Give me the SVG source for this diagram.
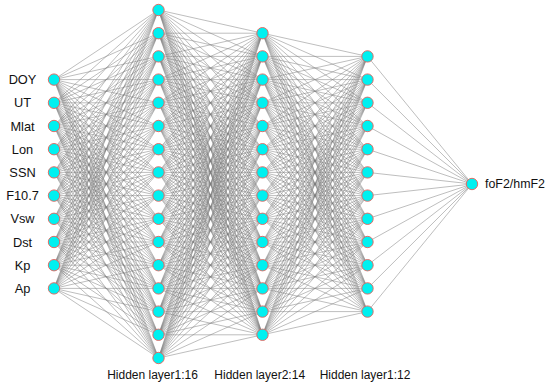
<svg xmlns="http://www.w3.org/2000/svg" width="550" height="390" viewBox="0 0 550 390">
<style>
.bg{fill:#fff}
.c path{fill:none;stroke:#7c7c7c;stroke-width:0.5}
.n circle{fill:#00f0f0;stroke:#e8605a;stroke-width:0.9}
text{font-family:"Liberation Sans",Arial,sans-serif;font-size:12px;fill:#111}
.lbl{text-anchor:middle}
.inl{font-size:12.8px}
</style>
<rect class="bg" width="550" height="390"/>
<g id="connectors" class="c">
<path d="M54 79.6 158.5 10M54 79.6 158.5 33.2M54 79.6 158.5 56.4M54 79.6 158.5 79.6M54 79.6 158.5 102.8M54 79.6 158.5 126M54 79.6 158.5 149.2M54 79.6 158.5 172.4M54 79.6 158.5 195.6M54 79.6 158.5 218.8M54 79.6 158.5 242M54 79.6 158.5 265.2M54 79.6 158.5 288.4M54 79.6 158.5 311.6M54 79.6 158.5 334.8M54 79.6 158.5 358"/>
<path d="M54 102.8 158.5 10M54 102.8 158.5 33.2M54 102.8 158.5 56.4M54 102.8 158.5 79.6M54 102.8 158.5 102.8M54 102.8 158.5 126M54 102.8 158.5 149.2M54 102.8 158.5 172.4M54 102.8 158.5 195.6M54 102.8 158.5 218.8M54 102.8 158.5 242M54 102.8 158.5 265.2M54 102.8 158.5 288.4M54 102.8 158.5 311.6M54 102.8 158.5 334.8M54 102.8 158.5 358"/>
<path d="M54 126 158.5 10M54 126 158.5 33.2M54 126 158.5 56.4M54 126 158.5 79.6M54 126 158.5 102.8M54 126 158.5 126M54 126 158.5 149.2M54 126 158.5 172.4M54 126 158.5 195.6M54 126 158.5 218.8M54 126 158.5 242M54 126 158.5 265.2M54 126 158.5 288.4M54 126 158.5 311.6M54 126 158.5 334.8M54 126 158.5 358"/>
<path d="M54 149.2 158.5 10M54 149.2 158.5 33.2M54 149.2 158.5 56.4M54 149.2 158.5 79.6M54 149.2 158.5 102.8M54 149.2 158.5 126M54 149.2 158.5 149.2M54 149.2 158.5 172.4M54 149.2 158.5 195.6M54 149.2 158.5 218.8M54 149.2 158.5 242M54 149.2 158.5 265.2M54 149.2 158.5 288.4M54 149.2 158.5 311.6M54 149.2 158.5 334.8M54 149.2 158.5 358"/>
<path d="M54 172.4 158.5 10M54 172.4 158.5 33.2M54 172.4 158.5 56.4M54 172.4 158.5 79.6M54 172.4 158.5 102.8M54 172.4 158.5 126M54 172.4 158.5 149.2M54 172.4 158.5 172.4M54 172.4 158.5 195.6M54 172.4 158.5 218.8M54 172.4 158.5 242M54 172.4 158.5 265.2M54 172.4 158.5 288.4M54 172.4 158.5 311.6M54 172.4 158.5 334.8M54 172.4 158.5 358"/>
<path d="M54 195.6 158.5 10M54 195.6 158.5 33.2M54 195.6 158.5 56.4M54 195.6 158.5 79.6M54 195.6 158.5 102.8M54 195.6 158.5 126M54 195.6 158.5 149.2M54 195.6 158.5 172.4M54 195.6 158.5 195.6M54 195.6 158.5 218.8M54 195.6 158.5 242M54 195.6 158.5 265.2M54 195.6 158.5 288.4M54 195.6 158.5 311.6M54 195.6 158.5 334.8M54 195.6 158.5 358"/>
<path d="M54 218.8 158.5 10M54 218.8 158.5 33.2M54 218.8 158.5 56.4M54 218.8 158.5 79.6M54 218.8 158.5 102.8M54 218.8 158.5 126M54 218.8 158.5 149.2M54 218.8 158.5 172.4M54 218.8 158.5 195.6M54 218.8 158.5 218.8M54 218.8 158.5 242M54 218.8 158.5 265.2M54 218.8 158.5 288.4M54 218.8 158.5 311.6M54 218.8 158.5 334.8M54 218.8 158.5 358"/>
<path d="M54 242 158.5 10M54 242 158.5 33.2M54 242 158.5 56.4M54 242 158.5 79.6M54 242 158.5 102.8M54 242 158.5 126M54 242 158.5 149.2M54 242 158.5 172.4M54 242 158.5 195.6M54 242 158.5 218.8M54 242 158.5 242M54 242 158.5 265.2M54 242 158.5 288.4M54 242 158.5 311.6M54 242 158.5 334.8M54 242 158.5 358"/>
<path d="M54 265.2 158.5 10M54 265.2 158.5 33.2M54 265.2 158.5 56.4M54 265.2 158.5 79.6M54 265.2 158.5 102.8M54 265.2 158.5 126M54 265.2 158.5 149.2M54 265.2 158.5 172.4M54 265.2 158.5 195.6M54 265.2 158.5 218.8M54 265.2 158.5 242M54 265.2 158.5 265.2M54 265.2 158.5 288.4M54 265.2 158.5 311.6M54 265.2 158.5 334.8M54 265.2 158.5 358"/>
<path d="M54 288.4 158.5 10M54 288.4 158.5 33.2M54 288.4 158.5 56.4M54 288.4 158.5 79.6M54 288.4 158.5 102.8M54 288.4 158.5 126M54 288.4 158.5 149.2M54 288.4 158.5 172.4M54 288.4 158.5 195.6M54 288.4 158.5 218.8M54 288.4 158.5 242M54 288.4 158.5 265.2M54 288.4 158.5 288.4M54 288.4 158.5 311.6M54 288.4 158.5 334.8M54 288.4 158.5 358"/>

<path d="M158.5 10 262.5 33.2M158.5 10 262.5 56.4M158.5 10 262.5 79.6M158.5 10 262.5 102.8M158.5 10 262.5 126M158.5 10 262.5 149.2M158.5 10 262.5 172.4M158.5 10 262.5 195.6M158.5 10 262.5 218.8M158.5 10 262.5 242M158.5 10 262.5 265.2M158.5 10 262.5 288.4M158.5 10 262.5 311.6M158.5 10 262.5 334.8"/>
<path d="M158.5 33.2 262.5 33.2M158.5 33.2 262.5 56.4M158.5 33.2 262.5 79.6M158.5 33.2 262.5 102.8M158.5 33.2 262.5 126M158.5 33.2 262.5 149.2M158.5 33.2 262.5 172.4M158.5 33.2 262.5 195.6M158.5 33.2 262.5 218.8M158.5 33.2 262.5 242M158.5 33.2 262.5 265.2M158.5 33.2 262.5 288.4M158.5 33.2 262.5 311.6M158.5 33.2 262.5 334.8"/>
<path d="M158.5 56.4 262.5 33.2M158.5 56.4 262.5 56.4M158.5 56.4 262.5 79.6M158.5 56.4 262.5 102.8M158.5 56.4 262.5 126M158.5 56.4 262.5 149.2M158.5 56.4 262.5 172.4M158.5 56.4 262.5 195.6M158.5 56.4 262.5 218.8M158.5 56.4 262.5 242M158.5 56.4 262.5 265.2M158.5 56.4 262.5 288.4M158.5 56.4 262.5 311.6M158.5 56.4 262.5 334.8"/>
<path d="M158.5 79.6 262.5 33.2M158.5 79.6 262.5 56.4M158.5 79.6 262.5 79.6M158.5 79.6 262.5 102.8M158.5 79.6 262.5 126M158.5 79.6 262.5 149.2M158.5 79.6 262.5 172.4M158.5 79.6 262.5 195.6M158.5 79.6 262.5 218.8M158.5 79.6 262.5 242M158.5 79.6 262.5 265.2M158.5 79.6 262.5 288.4M158.5 79.6 262.5 311.6M158.5 79.6 262.5 334.8"/>
<path d="M158.5 102.8 262.5 33.2M158.5 102.8 262.5 56.4M158.5 102.8 262.5 79.6M158.5 102.8 262.5 102.8M158.5 102.8 262.5 126M158.5 102.8 262.5 149.2M158.5 102.8 262.5 172.4M158.5 102.8 262.5 195.6M158.5 102.8 262.5 218.8M158.5 102.8 262.5 242M158.5 102.8 262.5 265.2M158.5 102.8 262.5 288.4M158.5 102.8 262.5 311.6M158.5 102.8 262.5 334.8"/>
<path d="M158.5 126 262.5 33.2M158.5 126 262.5 56.4M158.5 126 262.5 79.6M158.5 126 262.5 102.8M158.5 126 262.5 126M158.5 126 262.5 149.2M158.5 126 262.5 172.4M158.5 126 262.5 195.6M158.5 126 262.5 218.8M158.5 126 262.5 242M158.5 126 262.5 265.2M158.5 126 262.5 288.4M158.5 126 262.5 311.6M158.5 126 262.5 334.8"/>
<path d="M158.5 149.2 262.5 33.2M158.5 149.2 262.5 56.4M158.5 149.2 262.5 79.6M158.5 149.2 262.5 102.8M158.5 149.2 262.5 126M158.5 149.2 262.5 149.2M158.5 149.2 262.5 172.4M158.5 149.2 262.5 195.6M158.5 149.2 262.5 218.8M158.5 149.2 262.5 242M158.5 149.2 262.5 265.2M158.5 149.2 262.5 288.4M158.5 149.2 262.5 311.6M158.5 149.2 262.5 334.8"/>
<path d="M158.5 172.4 262.5 33.2M158.5 172.4 262.5 56.4M158.5 172.4 262.5 79.6M158.5 172.4 262.5 102.8M158.5 172.4 262.5 126M158.5 172.4 262.5 149.2M158.5 172.4 262.5 172.4M158.5 172.4 262.5 195.6M158.5 172.4 262.5 218.8M158.5 172.4 262.5 242M158.5 172.4 262.5 265.2M158.5 172.4 262.5 288.4M158.5 172.4 262.5 311.6M158.5 172.4 262.5 334.8"/>
<path d="M158.5 195.6 262.5 33.2M158.5 195.6 262.5 56.4M158.5 195.6 262.5 79.6M158.5 195.6 262.5 102.8M158.5 195.6 262.5 126M158.5 195.6 262.5 149.2M158.5 195.6 262.5 172.4M158.5 195.6 262.5 195.6M158.5 195.6 262.5 218.8M158.5 195.6 262.5 242M158.5 195.6 262.5 265.2M158.5 195.6 262.5 288.4M158.5 195.6 262.5 311.6M158.5 195.6 262.5 334.8"/>
<path d="M158.5 218.8 262.5 33.2M158.5 218.8 262.5 56.4M158.5 218.8 262.5 79.6M158.5 218.8 262.5 102.8M158.5 218.8 262.5 126M158.5 218.8 262.5 149.2M158.5 218.8 262.5 172.4M158.5 218.8 262.5 195.6M158.5 218.8 262.5 218.8M158.5 218.8 262.5 242M158.5 218.8 262.5 265.2M158.5 218.8 262.5 288.4M158.5 218.8 262.5 311.6M158.5 218.8 262.5 334.8"/>
<path d="M158.5 242 262.5 33.2M158.5 242 262.5 56.4M158.5 242 262.5 79.6M158.5 242 262.5 102.8M158.5 242 262.5 126M158.5 242 262.5 149.2M158.5 242 262.5 172.4M158.5 242 262.5 195.6M158.5 242 262.5 218.8M158.5 242 262.5 242M158.5 242 262.5 265.2M158.5 242 262.5 288.4M158.5 242 262.5 311.6M158.5 242 262.5 334.8"/>
<path d="M158.5 265.2 262.5 33.2M158.5 265.2 262.5 56.4M158.5 265.2 262.5 79.6M158.5 265.2 262.5 102.8M158.5 265.2 262.5 126M158.5 265.2 262.5 149.2M158.5 265.2 262.5 172.4M158.5 265.2 262.5 195.6M158.5 265.2 262.5 218.8M158.5 265.2 262.5 242M158.5 265.2 262.5 265.2M158.5 265.2 262.5 288.4M158.5 265.2 262.5 311.6M158.5 265.2 262.5 334.8"/>
<path d="M158.5 288.4 262.5 33.2M158.5 288.4 262.5 56.4M158.5 288.4 262.5 79.6M158.5 288.4 262.5 102.8M158.5 288.4 262.5 126M158.5 288.4 262.5 149.2M158.5 288.4 262.5 172.4M158.5 288.4 262.5 195.6M158.5 288.4 262.5 218.8M158.5 288.4 262.5 242M158.5 288.4 262.5 265.2M158.5 288.4 262.5 288.4M158.5 288.4 262.5 311.6M158.5 288.4 262.5 334.8"/>
<path d="M158.5 311.6 262.5 33.2M158.5 311.6 262.5 56.4M158.5 311.6 262.5 79.6M158.5 311.6 262.5 102.8M158.5 311.6 262.5 126M158.5 311.6 262.5 149.2M158.5 311.6 262.5 172.4M158.5 311.6 262.5 195.6M158.5 311.6 262.5 218.8M158.5 311.6 262.5 242M158.5 311.6 262.5 265.2M158.5 311.6 262.5 288.4M158.5 311.6 262.5 311.6M158.5 311.6 262.5 334.8"/>
<path d="M158.5 334.8 262.5 33.2M158.5 334.8 262.5 56.4M158.5 334.8 262.5 79.6M158.5 334.8 262.5 102.8M158.5 334.8 262.5 126M158.5 334.8 262.5 149.2M158.5 334.8 262.5 172.4M158.5 334.8 262.5 195.6M158.5 334.8 262.5 218.8M158.5 334.8 262.5 242M158.5 334.8 262.5 265.2M158.5 334.8 262.5 288.4M158.5 334.8 262.5 311.6M158.5 334.8 262.5 334.8"/>
<path d="M158.5 358 262.5 33.2M158.5 358 262.5 56.4M158.5 358 262.5 79.6M158.5 358 262.5 102.8M158.5 358 262.5 126M158.5 358 262.5 149.2M158.5 358 262.5 172.4M158.5 358 262.5 195.6M158.5 358 262.5 218.8M158.5 358 262.5 242M158.5 358 262.5 265.2M158.5 358 262.5 288.4M158.5 358 262.5 311.6M158.5 358 262.5 334.8"/>

<path d="M262.5 33.2 367.5 56.4M262.5 33.2 367.5 79.6M262.5 33.2 367.5 102.8M262.5 33.2 367.5 126M262.5 33.2 367.5 149.2M262.5 33.2 367.5 172.4M262.5 33.2 367.5 195.6M262.5 33.2 367.5 218.8M262.5 33.2 367.5 242M262.5 33.2 367.5 265.2M262.5 33.2 367.5 288.4M262.5 33.2 367.5 311.6"/>
<path d="M262.5 56.4 367.5 56.4M262.5 56.4 367.5 79.6M262.5 56.4 367.5 102.8M262.5 56.4 367.5 126M262.5 56.4 367.5 149.2M262.5 56.4 367.5 172.4M262.5 56.4 367.5 195.6M262.5 56.4 367.5 218.8M262.5 56.4 367.5 242M262.5 56.4 367.5 265.2M262.5 56.4 367.5 288.4M262.5 56.4 367.5 311.6"/>
<path d="M262.5 79.6 367.5 56.4M262.5 79.6 367.5 79.6M262.5 79.6 367.5 102.8M262.5 79.6 367.5 126M262.5 79.6 367.5 149.2M262.5 79.6 367.5 172.4M262.5 79.6 367.5 195.6M262.5 79.6 367.5 218.8M262.5 79.6 367.5 242M262.5 79.6 367.5 265.2M262.5 79.6 367.5 288.4M262.5 79.6 367.5 311.6"/>
<path d="M262.5 102.8 367.5 56.4M262.5 102.8 367.5 79.6M262.5 102.8 367.5 102.8M262.5 102.8 367.5 126M262.5 102.8 367.5 149.2M262.5 102.8 367.5 172.4M262.5 102.8 367.5 195.6M262.5 102.8 367.5 218.8M262.5 102.8 367.5 242M262.5 102.8 367.5 265.2M262.5 102.8 367.5 288.4M262.5 102.8 367.5 311.6"/>
<path d="M262.5 126 367.5 56.4M262.5 126 367.5 79.6M262.5 126 367.5 102.8M262.5 126 367.5 126M262.5 126 367.5 149.2M262.5 126 367.5 172.4M262.5 126 367.5 195.6M262.5 126 367.5 218.8M262.5 126 367.5 242M262.5 126 367.5 265.2M262.5 126 367.5 288.4M262.5 126 367.5 311.6"/>
<path d="M262.5 149.2 367.5 56.4M262.5 149.2 367.5 79.6M262.5 149.2 367.5 102.8M262.5 149.2 367.5 126M262.5 149.2 367.5 149.2M262.5 149.2 367.5 172.4M262.5 149.2 367.5 195.6M262.5 149.2 367.5 218.8M262.5 149.2 367.5 242M262.5 149.2 367.5 265.2M262.5 149.2 367.5 288.4M262.5 149.2 367.5 311.6"/>
<path d="M262.5 172.4 367.5 56.4M262.5 172.4 367.5 79.6M262.5 172.4 367.5 102.8M262.5 172.4 367.5 126M262.5 172.4 367.5 149.2M262.5 172.4 367.5 172.4M262.5 172.4 367.5 195.6M262.5 172.4 367.5 218.8M262.5 172.4 367.5 242M262.5 172.4 367.5 265.2M262.5 172.4 367.5 288.4M262.5 172.4 367.5 311.6"/>
<path d="M262.5 195.6 367.5 56.4M262.5 195.6 367.5 79.6M262.5 195.6 367.5 102.8M262.5 195.6 367.5 126M262.5 195.6 367.5 149.2M262.5 195.6 367.5 172.4M262.5 195.6 367.5 195.6M262.5 195.6 367.5 218.8M262.5 195.6 367.5 242M262.5 195.6 367.5 265.2M262.5 195.6 367.5 288.4M262.5 195.6 367.5 311.6"/>
<path d="M262.5 218.8 367.5 56.4M262.5 218.8 367.5 79.6M262.5 218.8 367.5 102.8M262.5 218.8 367.5 126M262.5 218.8 367.5 149.2M262.5 218.8 367.5 172.4M262.5 218.8 367.5 195.6M262.5 218.8 367.5 218.8M262.5 218.8 367.5 242M262.5 218.8 367.5 265.2M262.5 218.8 367.5 288.4M262.5 218.8 367.5 311.6"/>
<path d="M262.5 242 367.5 56.4M262.5 242 367.5 79.6M262.5 242 367.5 102.8M262.5 242 367.5 126M262.5 242 367.5 149.2M262.5 242 367.5 172.4M262.5 242 367.5 195.6M262.5 242 367.5 218.8M262.5 242 367.5 242M262.5 242 367.5 265.2M262.5 242 367.5 288.4M262.5 242 367.5 311.6"/>
<path d="M262.5 265.2 367.5 56.4M262.5 265.2 367.5 79.6M262.5 265.2 367.5 102.8M262.5 265.2 367.5 126M262.5 265.2 367.5 149.2M262.5 265.2 367.5 172.4M262.5 265.2 367.5 195.6M262.5 265.2 367.5 218.8M262.5 265.2 367.5 242M262.5 265.2 367.5 265.2M262.5 265.2 367.5 288.4M262.5 265.2 367.5 311.6"/>
<path d="M262.5 288.4 367.5 56.4M262.5 288.4 367.5 79.6M262.5 288.4 367.5 102.8M262.5 288.4 367.5 126M262.5 288.4 367.5 149.2M262.5 288.4 367.5 172.4M262.5 288.4 367.5 195.6M262.5 288.4 367.5 218.8M262.5 288.4 367.5 242M262.5 288.4 367.5 265.2M262.5 288.4 367.5 288.4M262.5 288.4 367.5 311.6"/>
<path d="M262.5 311.6 367.5 56.4M262.5 311.6 367.5 79.6M262.5 311.6 367.5 102.8M262.5 311.6 367.5 126M262.5 311.6 367.5 149.2M262.5 311.6 367.5 172.4M262.5 311.6 367.5 195.6M262.5 311.6 367.5 218.8M262.5 311.6 367.5 242M262.5 311.6 367.5 265.2M262.5 311.6 367.5 288.4M262.5 311.6 367.5 311.6"/>
<path d="M262.5 334.8 367.5 56.4M262.5 334.8 367.5 79.6M262.5 334.8 367.5 102.8M262.5 334.8 367.5 126M262.5 334.8 367.5 149.2M262.5 334.8 367.5 172.4M262.5 334.8 367.5 195.6M262.5 334.8 367.5 218.8M262.5 334.8 367.5 242M262.5 334.8 367.5 265.2M262.5 334.8 367.5 288.4M262.5 334.8 367.5 311.6"/>

<path d="M367.5 56.4 472 184M367.5 79.6 472 184M367.5 102.8 472 184M367.5 126 472 184M367.5 149.2 472 184M367.5 172.4 472 184M367.5 195.6 472 184M367.5 218.8 472 184M367.5 242 472 184M367.5 265.2 472 184M367.5 288.4 472 184M367.5 311.6 472 184"/>
</g>

<g id="input-layer" class="n">
<g id="in-DOY"><circle cx="54" cy="79.6" r="5.7"/><text class="lbl inl" x="22.5" y="84.2">DOY</text></g>
<g id="in-UT"><circle cx="54" cy="102.8" r="5.7"/><text class="lbl inl" x="22.5" y="107.4">UT</text></g>
<g id="in-Mlat"><circle cx="54" cy="126" r="5.7"/><text class="lbl inl" x="22.5" y="130.6">Mlat</text></g>
<g id="in-Lon"><circle cx="54" cy="149.2" r="5.7"/><text class="lbl inl" x="22.5" y="153.8">Lon</text></g>
<g id="in-SSN"><circle cx="54" cy="172.4" r="5.7"/><text class="lbl inl" x="22.5" y="177">SSN</text></g>
<g id="in-F107"><circle cx="54" cy="195.6" r="5.7"/><text class="lbl inl" x="22.5" y="200.2">F10.7</text></g>
<g id="in-Vsw"><circle cx="54" cy="218.8" r="5.7"/><text class="lbl inl" x="22.5" y="223.4">Vsw</text></g>
<g id="in-Dst"><circle cx="54" cy="242" r="5.7"/><text class="lbl inl" x="22.5" y="246.6">Dst</text></g>
<g id="in-Kp"><circle cx="54" cy="265.2" r="5.7"/><text class="lbl inl" x="22.5" y="269.8">Kp</text></g>
<g id="in-Ap"><circle cx="54" cy="288.4" r="5.7"/><text class="lbl inl" x="22.5" y="293">Ap</text></g>
</g>

<g id="hidden-layer-1" class="n">
<g id="h1-1"><circle cx="158.5" cy="10" r="5.7"/></g>
<g id="h1-2"><circle cx="158.5" cy="33.2" r="5.7"/></g>
<g id="h1-3"><circle cx="158.5" cy="56.4" r="5.7"/></g>
<g id="h1-4"><circle cx="158.5" cy="79.6" r="5.7"/></g>
<g id="h1-5"><circle cx="158.5" cy="102.8" r="5.7"/></g>
<g id="h1-6"><circle cx="158.5" cy="126" r="5.7"/></g>
<g id="h1-7"><circle cx="158.5" cy="149.2" r="5.7"/></g>
<g id="h1-8"><circle cx="158.5" cy="172.4" r="5.7"/></g>
<g id="h1-9"><circle cx="158.5" cy="195.6" r="5.7"/></g>
<g id="h1-10"><circle cx="158.5" cy="218.8" r="5.7"/></g>
<g id="h1-11"><circle cx="158.5" cy="242" r="5.7"/></g>
<g id="h1-12"><circle cx="158.5" cy="265.2" r="5.7"/></g>
<g id="h1-13"><circle cx="158.5" cy="288.4" r="5.7"/></g>
<g id="h1-14"><circle cx="158.5" cy="311.6" r="5.7"/></g>
<g id="h1-15"><circle cx="158.5" cy="334.8" r="5.7"/></g>
<g id="h1-16"><circle cx="158.5" cy="358" r="5.7"/></g>
<text class="lbl" x="152.5" y="379">Hidden layer1:16</text>
</g>

<g id="hidden-layer-2" class="n">
<g id="h2-1"><circle cx="262.5" cy="33.2" r="5.7"/></g>
<g id="h2-2"><circle cx="262.5" cy="56.4" r="5.7"/></g>
<g id="h2-3"><circle cx="262.5" cy="79.6" r="5.7"/></g>
<g id="h2-4"><circle cx="262.5" cy="102.8" r="5.7"/></g>
<g id="h2-5"><circle cx="262.5" cy="126" r="5.7"/></g>
<g id="h2-6"><circle cx="262.5" cy="149.2" r="5.7"/></g>
<g id="h2-7"><circle cx="262.5" cy="172.4" r="5.7"/></g>
<g id="h2-8"><circle cx="262.5" cy="195.6" r="5.7"/></g>
<g id="h2-9"><circle cx="262.5" cy="218.8" r="5.7"/></g>
<g id="h2-10"><circle cx="262.5" cy="242" r="5.7"/></g>
<g id="h2-11"><circle cx="262.5" cy="265.2" r="5.7"/></g>
<g id="h2-12"><circle cx="262.5" cy="288.4" r="5.7"/></g>
<g id="h2-13"><circle cx="262.5" cy="311.6" r="5.7"/></g>
<g id="h2-14"><circle cx="262.5" cy="334.8" r="5.7"/></g>
<text class="lbl" x="259.7" y="379">Hidden layer2:14</text>
</g>

<g id="hidden-layer-3" class="n">
<g id="h3-1"><circle cx="367.5" cy="56.4" r="5.7"/></g>
<g id="h3-2"><circle cx="367.5" cy="79.6" r="5.7"/></g>
<g id="h3-3"><circle cx="367.5" cy="102.8" r="5.7"/></g>
<g id="h3-4"><circle cx="367.5" cy="126" r="5.7"/></g>
<g id="h3-5"><circle cx="367.5" cy="149.2" r="5.7"/></g>
<g id="h3-6"><circle cx="367.5" cy="172.4" r="5.7"/></g>
<g id="h3-7"><circle cx="367.5" cy="195.6" r="5.7"/></g>
<g id="h3-8"><circle cx="367.5" cy="218.8" r="5.7"/></g>
<g id="h3-9"><circle cx="367.5" cy="242" r="5.7"/></g>
<g id="h3-10"><circle cx="367.5" cy="265.2" r="5.7"/></g>
<g id="h3-11"><circle cx="367.5" cy="288.4" r="5.7"/></g>
<g id="h3-12"><circle cx="367.5" cy="311.6" r="5.7"/></g>
<text class="lbl" x="365" y="379">Hidden layer1:12</text>
</g>

<g id="output" class="n">
<circle cx="472" cy="184" r="5.7"/>
<text x="485" y="188.3" style="font-size:12.4px">foF2/hmF2</text>
</g>
</svg>
